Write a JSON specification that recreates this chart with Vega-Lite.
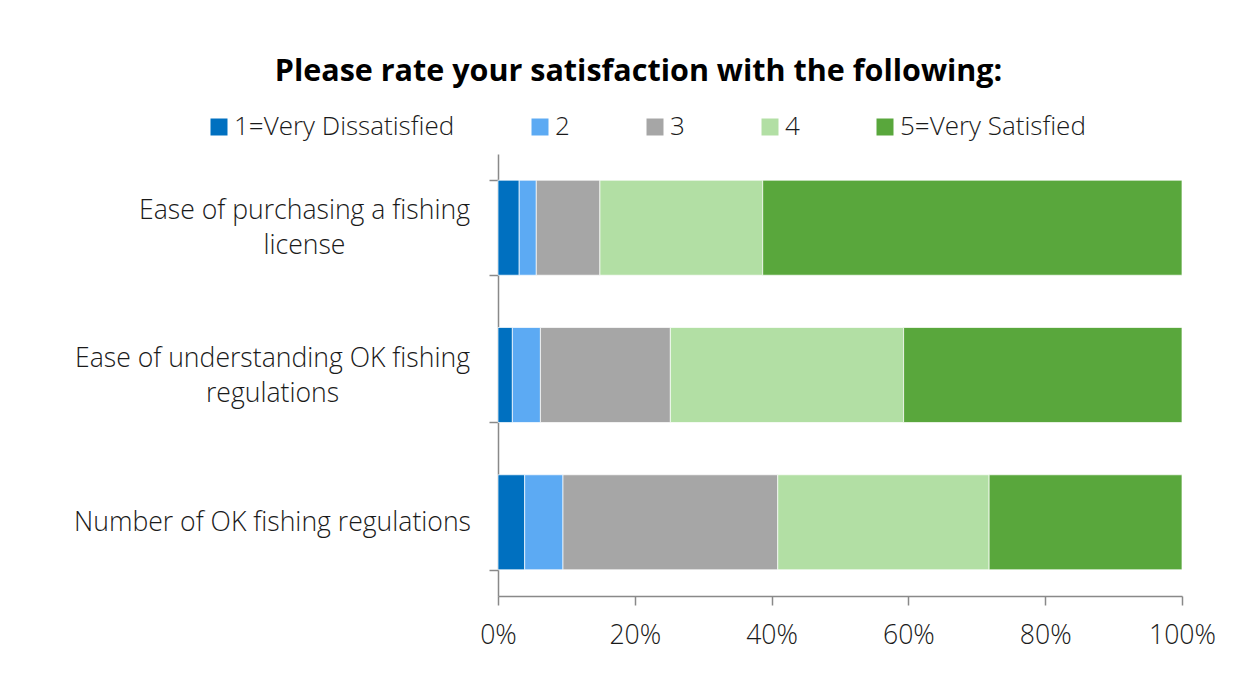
{
  "$schema": "https://vega.github.io/schema/vega-lite/v6.json",
  "width": 684,
  "height": 442,
  "autosize": {"type": "none"},
  "padding": {"left": 498, "top": 154, "right": 76, "bottom": 85},
  "background": "white",
  "title": {
    "text": "Please rate your satisfaction with the following:",
    "anchor": "middle",
    "frame": "bounds",
    "font": "Open Sans",
    "fontSize": 30.5,
    "fontWeight": "bold",
    "color": "#000000",
    "offset": 27,
    "dx": -6
  },
  "config": {
    "font": "Open Sans",
    "view": {"stroke": null},
    "axis": {
      "domainColor": "#898989",
      "domainWidth": 1.5,
      "tickColor": "#898989",
      "tickWidth": 1.5,
      "tickSize": 9,
      "labelFont": "Open Sans",
      "labelFontSize": 26.6,
      "labelFontWeight": 300,
      "labelColor": "#1a1a1a",
      "grid": false
    }
  },
  "data": {
    "values": [
      {"question": "Ease of purchasing a fishing license", "rating": "1=Very Dissatisfied", "r": 1, "pct": 3.1},
      {"question": "Ease of purchasing a fishing license", "rating": "2", "r": 2, "pct": 2.5},
      {"question": "Ease of purchasing a fishing license", "rating": "3", "r": 3, "pct": 9.3},
      {"question": "Ease of purchasing a fishing license", "rating": "4", "r": 4, "pct": 23.8},
      {"question": "Ease of purchasing a fishing license", "rating": "5=Very Satisfied", "r": 5, "pct": 61.3},
      {"question": "Ease of understanding OK fishing regulations", "rating": "1=Very Dissatisfied", "r": 1, "pct": 2.1},
      {"question": "Ease of understanding OK fishing regulations", "rating": "2", "r": 2, "pct": 4.1},
      {"question": "Ease of understanding OK fishing regulations", "rating": "3", "r": 3, "pct": 19.0},
      {"question": "Ease of understanding OK fishing regulations", "rating": "4", "r": 4, "pct": 34.1},
      {"question": "Ease of understanding OK fishing regulations", "rating": "5=Very Satisfied", "r": 5, "pct": 40.7},
      {"question": "Number of OK fishing regulations", "rating": "1=Very Dissatisfied", "r": 1, "pct": 3.9},
      {"question": "Number of OK fishing regulations", "rating": "2", "r": 2, "pct": 5.6},
      {"question": "Number of OK fishing regulations", "rating": "3", "r": 3, "pct": 31.4},
      {"question": "Number of OK fishing regulations", "rating": "4", "r": 4, "pct": 30.9},
      {"question": "Number of OK fishing regulations", "rating": "5=Very Satisfied", "r": 5, "pct": 28.2}
    ]
  },
  "mark": {"type": "bar", "stroke": "white", "strokeWidth": 0.7},
  "encoding": {
    "y": {
      "field": "question",
      "type": "nominal",
      "sort": ["Ease of purchasing a fishing license", "Ease of understanding OK fishing regulations", "Number of OK fishing regulations"],
      "title": null,
      "scale": {"paddingInner": 0.355, "paddingOuter": 0.178},
      "axis": {
        "tickBand": "extent",
        "labelLimit": 0,
        "labelAlign": "center",
        "labelLineHeight": 35,
        "labelOffset": {
          "condition": {"test": "datum.value !== 'Number of OK fishing regulations'", "value": -17},
          "value": 0
        },
        "labelPadding": {
          "condition": {"test": "datum.value === 'Ease of purchasing a fishing license'", "value": 185},
          "value": 217
        },
        "labelExpr": "datum.value === 'Ease of purchasing a fishing license' ? ['Ease of purchasing a fishing', 'license'] : datum.value === 'Ease of understanding OK fishing regulations' ? ['Ease of understanding OK fishing', 'regulations'] : datum.value"
      }
    },
    "x": {
      "field": "pct",
      "type": "quantitative",
      "stack": "normalize",
      "title": null,
      "scale": {"domain": [0, 1]},
      "axis": {"format": ".0%", "values": [0, 0.2, 0.4, 0.6, 0.8, 1], "labelPadding": 17, "labelFlush": false}
    },
    "color": {
      "field": "rating",
      "type": "nominal",
      "scale": {
        "domain": ["1=Very Dissatisfied", "2", "3", "4", "5=Very Satisfied"],
        "range": ["#0070C0", "#5CAAF3", "#A6A6A6", "#B2DFA4", "#59A73C"]
      },
      "legend": {
        "title": null,
        "orient": "none",
        "direction": "horizontal",
        "legendX": -292,
        "legendY": -40,
        "symbolType": "square",
        "symbolSize": 289,
        "symbolStrokeWidth": 0,
        "symbolOpacity": 1,
        "labelFontSize": 26,
        "labelFontWeight": 300,
        "labelColor": "#1a1a1a",
        "labelOffset": 2,
        "labelLimit": 0,
        "columnPadding": 72
      }
    },
    "order": {"field": "r", "type": "quantitative"}
  }
}
